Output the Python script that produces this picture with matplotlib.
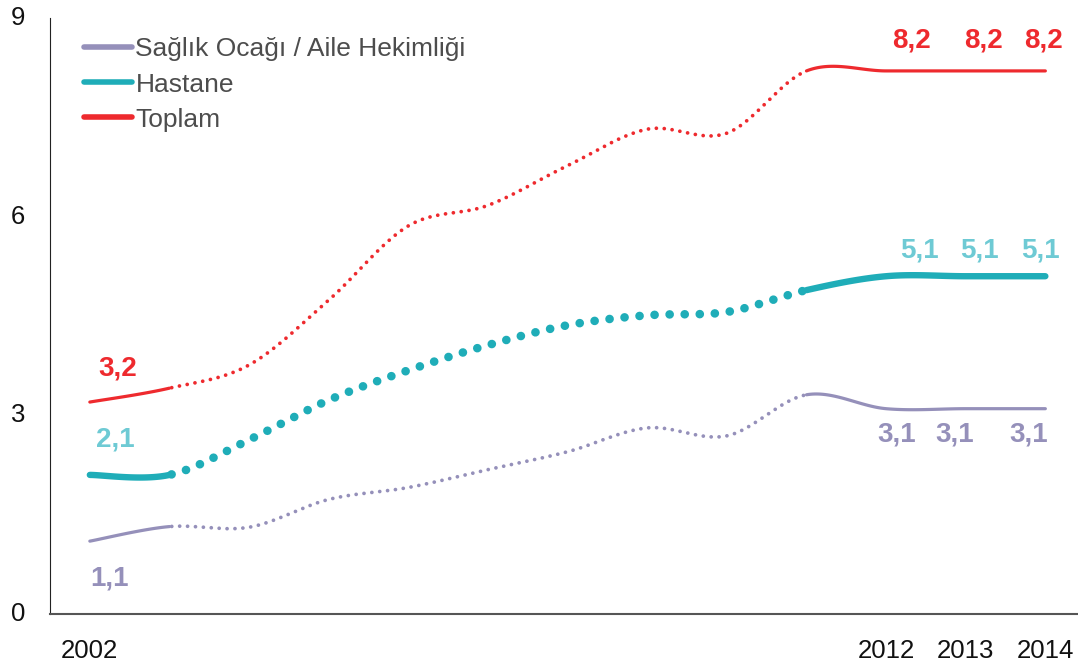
import numpy as np
import matplotlib
matplotlib.use("Agg")
import matplotlib.pyplot as plt
from matplotlib.lines import Line2D

years = list(range(2002, 2015))
saglik = [1.1, 1.32, 1.31, 1.73, 1.91, 2.18, 2.45, 2.81, 2.69, 3.31, 3.1, 3.1, 3.1]
hastane = [2.1, 2.1, 2.63, 3.23, 3.68, 4.06, 4.36, 4.51, 4.56, 4.89, 5.1, 5.1, 5.1]
toplam = [3.2, 3.41, 3.76, 4.74, 5.86, 6.17, 6.77, 7.32, 7.26, 8.2, 8.2, 8.2, 8.2]
series_names = ["Sağlık Ocağı / Aile Hekimliği", "Hastane", "Toplam"]
xtick_years = [2002, 2012, 2013, 2014]
yticks = [0, 3, 6, 9]

colors = ["#9590BA", "#1FADB8", "#EE2A2E"]
label_colors = ["#9590BA", "#6ECAD4", "#EE2A2E"]
widths = [2.3, 4.6, 2.3]
dot_widths = [2.7, 6.2, 2.7]
dot_gaps = [2.1, 1.74, 2.1]

plt.rcParams['font.family'] = ['Liberation Sans', 'DejaVu Sans']


def smooth(x, y, n=40):
    x = np.asarray(x, float)
    y = np.asarray(y, float)
    px = np.concatenate([[x[0]], x, [x[-1]]])
    py = np.concatenate([[y[0]], y, [y[-1]]])
    xs, ys = [], []
    t = np.linspace(0, 1, n)
    for i in range(1, len(px) - 2):
        p0 = np.array([px[i], py[i]])
        p3 = np.array([px[i + 1], py[i + 1]])
        c1 = p0 + (np.array([px[i + 1], py[i + 1]]) - np.array([px[i - 1], py[i - 1]])) / 6
        c2 = p3 - (np.array([px[i + 2], py[i + 2]]) - np.array([px[i], py[i]])) / 6
        b = ((1 - t) ** 3)[:, None] * p0 + (3 * (1 - t) ** 2 * t)[:, None] * c1 \
            + (3 * (1 - t) * t ** 2)[:, None] * c2 + (t ** 3)[:, None] * p3
        xs.append(b[:, 0])
        ys.append(b[:, 1])
    return np.concatenate(xs), np.concatenate(ys)


fig = plt.figure(figsize=(10.78, 6.64), dpi=100)
ax = fig.add_axes([0.0464, 0.0753, 0.9536, 0.8977])

for vals, c, w, dw, dg in zip([saglik, hastane, toplam], colors, widths, dot_widths, dot_gaps):
    sx, sy = smooth(years, vals)
    m1 = sx <= 2003
    m2 = (sx >= 2003) & (sx <= 2011)
    m3 = sx >= 2011
    ax.plot(sx[m1], sy[m1], color=c, lw=w, solid_capstyle='round')
    ax.plot(sx[m3], sy[m3], color=c, lw=w, solid_capstyle='round')
    ax.plot(sx[m2], sy[m2], color=c, lw=dw, linestyle=(1.5, (0.01, dg)),
            dash_capstyle='round')

# value labels
lab_font = dict(fontsize=20, fontweight='bold', ha='center', va='center')


def lab(x, y, dx, dy, color):
    ax.annotate(f"{y:.1f}".replace('.', ','), (x, y), xytext=(dx, dy),
                textcoords='offset pixels', color=color, **lab_font)


i0 = 0
lab(years[i0], toplam[i0], 28, 34, label_colors[2])
lab(years[i0], hastane[i0], 25, 35, label_colors[1])
lab(years[i0], saglik[i0], 20, -37, label_colors[0])
for yr, dx in zip([2012, 2013, 2014], [25, 18, -2]):
    i = years.index(yr)
    lab(yr, toplam[i], dx, 30, label_colors[2])
for yr, dx in zip([2012, 2013, 2014], [33, 14, -5]):
    i = years.index(yr)
    lab(yr, hastane[i], dx, 26, label_colors[1])
for yr, dx in zip([2012, 2013, 2014], [11, -11, -17]):
    i = years.index(yr)
    lab(yr, saglik[i], dx, -26, label_colors[0])

ax.set_xlim(2001.5, 2014.41)
ax.set_ylim(0, 9)
ax.set_yticks(yticks)
ax.set_yticklabels([str(v) for v in yticks])
ax.set_xticks(xtick_years)
ax.set_xticklabels([str(v) for v in xtick_years])
ax.tick_params(axis='both', length=0, labelsize=18.5, colors='#111111')
ax.tick_params(axis='y', pad=18)
ax.tick_params(axis='x', pad=18)
for lbl in ax.get_yticklabels():
    lbl.set_verticalalignment('center')
ax.spines['top'].set_visible(False)
ax.spines['right'].set_visible(False)
ax.spines['left'].set_color('#222222')
ax.spines['bottom'].set_color('#555555')
ax.spines['bottom'].set_linewidth(1.5)

handles = [Line2D([0], [0], color=c, lw=4, solid_capstyle='round') for c in colors]
leg = ax.legend(handles, series_names, loc='upper left', bbox_to_anchor=(0.023, 0.985),
                frameon=False, fontsize=19, handlelength=1.82, handletextpad=0.12,
                labelspacing=0.42, borderaxespad=0)
for t in leg.get_texts():
    t.set_color('#4D4D4D')

fig.savefig("out.png", dpi=100)
